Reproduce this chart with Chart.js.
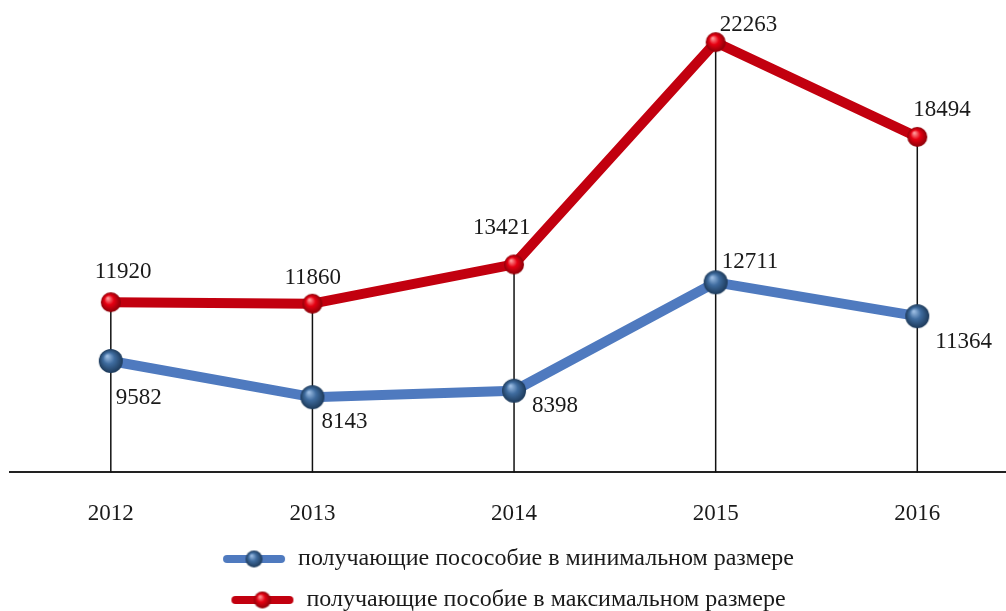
<!DOCTYPE html>
<html>
<head>
<meta charset="utf-8">
<script src="https://cdn.jsdelivr.net/npm/chart.js@4"></script>
<style>
    html, body { margin: 0; padding: 0; background: #fff; }
    #wrap { width: 1006px; height: 611px; position: relative; overflow: hidden; }
</style>
</head>
<body>
<div id="wrap"><canvas id="chart"></canvas></div>
<script>
// Data
const years = [2012, 2013, 2014, 2015, 2016];
const minValues = [9582, 8143, 8398, 12711, 11364];
const maxValues = [11920, 11860, 13421, 22263, 18494];
const seriesNames = [
    'получающие посособие в минимальном размере',
    'получающие пособие в максимальном размере'
];

// Label placement (left edge / vertical centre relative to the point)
const minLabelOffsets = [[5, 37], [9, 25], [18, 15], [6, -20], [18, 26]];
const maxLabelOffsets = [[-16, -30], [-28, -26], [-41, -37], [4, -17], [-4, -27]];

const BLUE = '#4f7abf';
const RED = '#c2000f';
const FONT = '"Liberation Serif", "Times New Roman", serif';

// Glossy ball used as a point marker
const makeSphere = (r, light, base, dark) => {
    const size = Math.ceil(r * 2 + 4);
    const c = document.createElement('canvas');
    c.width = size; c.height = size;
    const ctx = c.getContext('2d');
    const cx = size / 2, cy = size / 2;
    const g = ctx.createRadialGradient(cx - r * 0.3, cy - r * 0.4, r * 0.05, cx, cy, r);
    g.addColorStop(0, light);
    g.addColorStop(0.45, base);
    g.addColorStop(1, dark);
    ctx.beginPath();
    ctx.arc(cx, cy, r, 0, Math.PI * 2);
    ctx.fillStyle = g;
    ctx.fill();
    return c;
};

const blueBall = makeSphere(12, '#9cbde3', '#3f6c9f', '#1d3a5a');
const redBall = makeSphere(10, '#ff9a9a', '#e60012', '#8a0008');

// Legend swatch: thick line with a ball in the middle
const makeSwatch = (color, light, base, dark) => {
    const c = document.createElement('canvas');
    c.width = 64; c.height = 24;
    const ctx = c.getContext('2d');
    ctx.strokeStyle = color;
    ctx.lineWidth = 8;
    ctx.lineCap = 'round';
    ctx.beginPath();
    ctx.moveTo(5, 12);
    ctx.lineTo(59, 12);
    ctx.stroke();
    const ball = makeSphere(8.5, light, base, dark);
    ctx.drawImage(ball, 32 - ball.width / 2, 12 - ball.height / 2);
    return c;
};
const swatches = [
    makeSwatch(BLUE, '#9cbde3', '#3f6c9f', '#1d3a5a'),
    makeSwatch(RED, '#ff9a9a', '#e60012', '#8a0008')
];

// Vertical drop lines from the top point of each year down to the axis
const dropLines = {
    id: 'dropLines',
    beforeDatasetsDraw(chart) {
        const { ctx, chartArea, scales } = chart;
        ctx.save();
        ctx.strokeStyle = '#111';
        ctx.lineWidth = 1.5;
        years.forEach((yr, i) => {
            const x = scales.x.getPixelForValue(yr);
            const top = scales.y.getPixelForValue(Math.max(minValues[i], maxValues[i]));
            ctx.beginPath();
            ctx.moveTo(x, top);
            ctx.lineTo(x, chartArea.bottom);
            ctx.stroke();
        });
        ctx.restore();
    }
};

// Value labels next to the points
const valueLabels = {
    id: 'valueLabels',
    afterDatasetsDraw(chart) {
        const { ctx } = chart;
        ctx.save();
        ctx.font = '23px ' + FONT;
        ctx.fillStyle = '#1a1a1a';
        ctx.textAlign = 'left';
        ctx.textBaseline = 'middle';
        const offsets = [minLabelOffsets, maxLabelOffsets];
        chart.data.datasets.forEach((ds, d) => {
            chart.getDatasetMeta(d).data.forEach((pt, i) => {
                const [dx, dy] = offsets[d][i];
                ctx.fillText(String(ds.data[i].y), pt.x + dx, pt.y + dy);
            });
        });
        ctx.restore();
    }
};

const toPoints = (vals) => vals.map((v, i) => ({ x: years[i], y: v }));

new Chart(document.getElementById('chart'), {
    type: 'line',
    data: {
        datasets: [{
            label: seriesNames[0],
            data: toPoints(minValues),
            borderColor: BLUE,
            backgroundColor: BLUE,
            borderWidth: 10,
            borderJoinStyle: 'round',
            borderCapStyle: 'round',
            pointStyle: blueBall,
            pointRadius: 12,
            tension: 0
        }, {
            label: seriesNames[1],
            data: toPoints(maxValues),
            borderColor: RED,
            backgroundColor: RED,
            borderWidth: 10,
            borderJoinStyle: 'round',
            borderCapStyle: 'round',
            pointStyle: redBall,
            pointRadius: 10,
            tension: 0
        }]
    },
    options: {
        responsive: true,
        maintainAspectRatio: false,
        animation: false,
        layout: { autoPadding: false, padding: { left: 10, right: 0, top: 0, bottom: -11 } },
        plugins: {
            tooltip: { enabled: false },
            legend: {
                position: 'bottom',
                labels: {
                    font: { family: FONT, size: 24 },
                    color: '#1a1a1a',
                    usePointStyle: true,
                    pointStyleWidth: 64,
                    padding: 17,
                    generateLabels(chart) {
                        const items = Chart.defaults.plugins.legend.labels.generateLabels(chart);
                        items.forEach((it, i) => { it.pointStyle = swatches[i]; });
                        return items;
                    }
                }
            }
        },
        scales: {
            x: {
                type: 'linear',
                min: 2011.5,
                max: 2016.44,
                grid: { display: false, drawTicks: false },
                border: { display: true, color: '#222', width: 2 },
                afterFit: (scale) => { scale.height -= 26; },
                ticks: {
                    stepSize: 1,
                    includeBounds: false,
                    autoSkip: false,
                    padding: 28,
                    color: '#1a1a1a',
                    font: { family: FONT, size: 23 },
                    callback: (v) => Number.isInteger(v) ? String(v) : ''
                }
            },
            y: {
                display: false,
                min: 5150,
                max: 23940
            }
        }
    },
    plugins: [dropLines, valueLabels]
});
</script>
</body>
</html>
